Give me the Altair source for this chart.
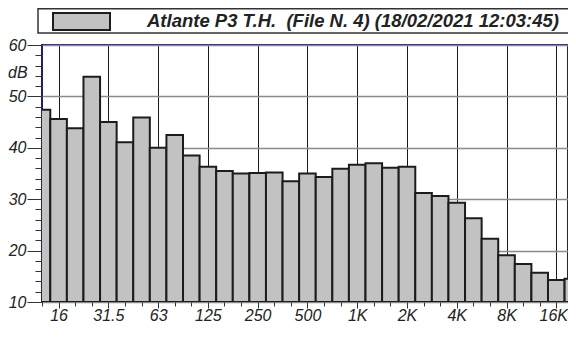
import altair as alt
import pandas as pd

# Third-octave bands (12.5 Hz .. 20 kHz) and their levels (dB)
bands = ["12.5", "16", "20", "25", "31.5", "40", "50", "63", "80", "100", "125",
         "160", "200", "250", "315", "400", "500", "630", "800", "1K", "1.25K",
         "1.6K", "2K", "2.5K", "3.15K", "4K", "5K", "6.3K", "8K", "10K", "12.5K",
         "16K", "20K"]
levels = [47.4, 45.6, 43.8, 53.8, 45.0, 41.1, 45.9, 40.0, 42.5, 38.5, 36.3,
          35.5, 35.0, 35.1, 35.2, 33.5, 35.0, 34.3, 35.9, 36.7, 37.0,
          36.1, 36.3, 31.2, 30.6, 29.3, 26.3, 22.3, 19.1, 17.4, 15.7,
          14.3, 14.5]
x_tick_labels = ["16", "31.5", "63", "125", "250", "500", "1K", "2K", "4K", "8K", "16K"]
y_min, y_max = 10, 60
unit_label = ["dB"]
legend_text = ["Atlante P3 T.H.\u00a0 (File N. 4) (18/02/2021 12:03:45)"]

df = pd.DataFrame({"band": bands, "idx": list(range(len(bands))), "level": levels})

label_arr = "[" + ",".join("'" + s + "'" for s in x_tick_labels) + "]"
FONT = "Liberation Sans"

PLOT_W, PLOT_H = 526, 257
BAND_PX = 16.59  # pixel width of one third-octave band
last_major = 1 + 3 * (len(x_tick_labels) - 1)
xscale = alt.Scale(domain=[0, PLOT_W / BAND_PX], nice=False, zero=False)
yscale = alt.Scale(domain=[y_min, y_max], nice=False, zero=False)

x_axis = alt.Axis(
    values=list(range(len(bands))),
    labelExpr="datum.value % 3 == 1 ? " + label_arr + "[(datum.value - 1) / 3] : ''",
    title=None, orient="bottom", domain=False,
    grid=True, gridColor="#1a1a1a", gridWidth=1,
    gridOpacity={"condition": {"test": "datum.value % 3 == 1", "value": 1}, "value": 0},
    tickSize={"condition": {"test": "datum.value % 3 == 1", "value": 6}, "value": 4},
    tickColor="#333333", tickWidth=1,
    labelFont=FONT, labelFontStyle="italic", labelFontSize=16, labelColor="#222222",
    labelBaseline="alphabetic", labelPadding=12.5,
    labelOffset={"condition": {"test": "datum.value == %d" % last_major, "value": -3}, "value": 0},
    labelFlush=False, labelOverlap=False,
)
y_axis = alt.Axis(
    values=list(range(y_min, y_max + 1, 2)),
    labelExpr="datum.value % 10 == 0 ? datum.label : ''",
    title=None, orient="left", domain=False,
    grid=True, gridColor="#8a8a8a", gridWidth=1.5,
    gridOpacity={"condition": {"test": "datum.value % 10 == 0", "value": 1}, "value": 0},
    tickSize={"condition": {"test": "datum.value % 10 == 0", "value": 15}, "value": 7},
    tickColor="#333333", tickWidth=1,
    labelFont=FONT, labelFontStyle="italic", labelFontSize=16, labelColor="#222222",
    labelPadding=1, labelOverlap=False,
)

bars = alt.Chart(df).transform_calculate(
    x0="datum.idx - 0.5", x1="datum.idx + 0.5"
).mark_bar(
    fill="#c2c2c2", stroke="#1c1c1c", strokeWidth=2, clip=True
).encode(
    x=alt.X("x0:Q", scale=xscale, axis=x_axis),
    x2="x1:Q",
    y=alt.Y("level:Q", scale=yscale, axis=y_axis),
    y2=alt.datum(y_min),
    tooltip=["band", "level"],
)

unit = alt.Chart(pd.DataFrame({"t": unit_label})).mark_text(
    align="left", baseline="middle", font=FONT, fontStyle="italic",
    fontSize=16, color="#222222"
).encode(x=alt.value(-34), y=alt.value(28), text="t:N")

leg_df = pd.DataFrame({"t": legend_text})
leg_frame = alt.Chart(leg_df).mark_rect(
    fill="white", stroke="#333333", strokeWidth=1.5
).encode(x=alt.value(-4), x2=alt.value(545), y=alt.value(-36.2), y2=alt.value(-12))
leg_swatch = alt.Chart(leg_df).mark_rect(
    fill="#c2c2c2", stroke="#1c1c1c", strokeWidth=2
).encode(x=alt.value(11), x2=alt.value(68), y=alt.value(-32), y2=alt.value(-15))
leg_text = alt.Chart(leg_df).mark_text(
    align="left", baseline="middle", font=FONT, fontStyle="italic",
    fontWeight="bold", fontSize=18.5, color="#222222"
).encode(x=alt.value(105), y=alt.value(-24), text="t:N")

chart = alt.layer(bars, unit, leg_frame, leg_swatch, leg_text).properties(
    width=PLOT_W, height=PLOT_H,
    autosize=alt.AutoSizeParams(type="none"),
    padding={"left": 34, "top": 37, "right": 0, "bottom": 22},
    background="white",
).configure_view(stroke="#1f1f6b", strokeWidth=2)

chart.save("out.html", embed_options={"renderer": "svg", "actions": False})
